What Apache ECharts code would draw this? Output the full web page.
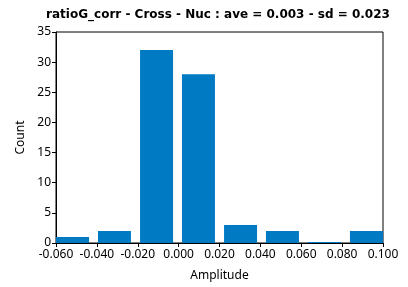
<!DOCTYPE html>
<html><head><meta charset="utf-8">
<script src="https://cdn.jsdelivr.net/npm/echarts@6/dist/echarts.min.js"></script>
<style>html,body{margin:0;padding:0;background:#fff}#c{width:408px;height:287px}</style>
</head><body><div id="c"></div>
<script>
const titleText = 'ratioG_corr - Cross - Nuc : ave = 0.003 - sd = 0.023';
const binCenters = [-0.0519, -0.0314, -0.0108, 0.0097, 0.0303, 0.0508, 0.0714, 0.0919];
const counts = [1, 2, 32, 28, 3, 2, 0, 2];
const xMin = -0.06, xMax = 0.1, xStep = 0.02;
const yMin = 0, yMax = 35, yStep = 5;

const font = 'Noto Sans';
const chart = echarts.init(document.getElementById('c'), null, {renderer: 'canvas'});
chart.setOption({
  animation: false,
  title: {text: titleText, left: 213, top: 4, textAlign: 'center',
    textStyle: {fontFamily: 'DejaVu Sans', fontSize: 12, fontWeight: 'bold', color: '#000'}},
  grid: {left: 56, right: 25, top: 32, bottom: 43, show: true, borderColor: '#000', borderWidth: 1, backgroundColor: '#fff'},
  xAxis: {type: 'value', min: xMin, max: xMax, interval: xStep,
    name: 'Amplitude', nameLocation: 'middle', nameGap: 27,
    nameTextStyle: {fontFamily: font, fontSize: 12, color: '#000'},
    axisLine: {show: true, onZero: false, lineStyle: {color: '#000'}},
    axisTick: {show: true, length: 4, lineStyle: {color: '#000'}},
    splitLine: {show: false},
    axisLabel: {fontFamily: font, fontSize: 12, color: '#000', margin: 6,
      formatter: v => v.toFixed(3)}},
  yAxis: {type: 'value', min: yMin, max: yMax, interval: yStep,
    name: 'Count', nameLocation: 'middle', nameGap: 24,
    nameTextStyle: {fontFamily: font, fontSize: 12, color: '#000'},
    axisLine: {show: true, onZero: false, lineStyle: {color: '#000'}},
    axisTick: {show: true, length: 4, lineStyle: {color: '#000'}},
    splitLine: {show: false},
    axisLabel: {fontFamily: font, fontSize: 12, color: '#000', margin: 5}},
  series: [{type: 'bar', barWidth: 33, barMinHeight: 1,
    itemStyle: {color: '#007AC3'},
    data: binCenters.map((c, i) => [c, counts[i]])}]
});
</script></body></html>
